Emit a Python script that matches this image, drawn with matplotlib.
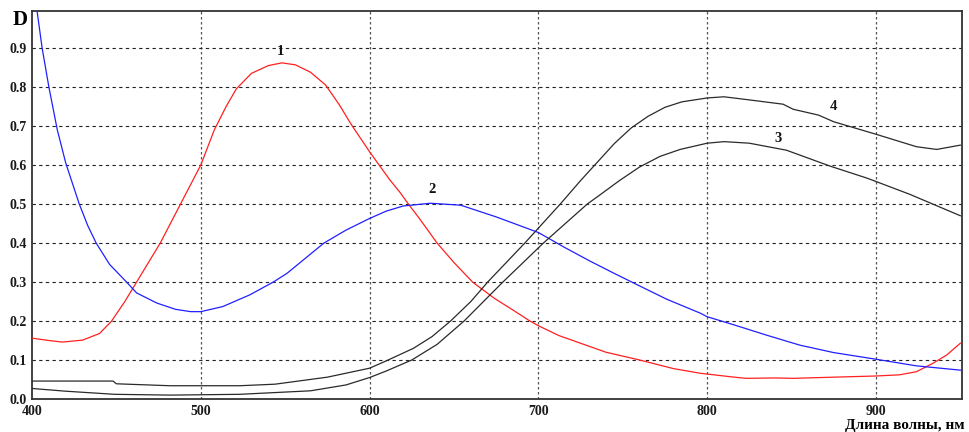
import matplotlib
matplotlib.use("Agg")
import matplotlib.pyplot as plt

# curve 1 (red)
red_x = [400, 410, 418, 430, 440, 447, 455, 462, 469, 476, 488, 500, 508, 515, 521, 530, 540,
         548, 556, 565, 574, 582, 589, 600, 606, 612, 618, 623, 630, 640, 650, 661, 674, 685,
         695, 700, 712, 725, 740, 760, 780, 796, 814, 823, 840, 851, 875, 900, 914, 924, 934,
         942, 950]
red_y = [0.156, 0.150, 0.146, 0.151, 0.168, 0.199, 0.25, 0.30, 0.35, 0.40, 0.50, 0.60, 0.69,
         0.75, 0.795, 0.835, 0.855, 0.862, 0.857, 0.838, 0.805, 0.755, 0.705, 0.634, 0.598,
         0.562, 0.53, 0.50, 0.46, 0.40, 0.35, 0.30, 0.258, 0.228, 0.20, 0.188, 0.163, 0.143,
         0.12, 0.10, 0.078, 0.066, 0.057, 0.053, 0.054, 0.053, 0.056, 0.059, 0.062, 0.070,
         0.092, 0.113, 0.143]

# curve 2 (blue)
blue_x = [400, 403, 406, 410, 415, 420, 428, 433, 438, 446, 456, 462, 474, 485, 494, 500, 513,
          529, 543, 551, 573, 586, 600, 610, 620, 636, 654, 675, 700, 715, 730, 745, 760, 776,
          796, 800, 816, 835, 855, 875, 900, 924, 950]
blue_y = [1.07, 0.995, 0.90, 0.80, 0.69, 0.605, 0.50, 0.445, 0.40, 0.345, 0.30, 0.272, 0.246,
          0.23, 0.224, 0.224, 0.237, 0.267, 0.30, 0.322, 0.40, 0.433, 0.463, 0.482, 0.495, 0.502,
          0.497, 0.467, 0.427, 0.39, 0.355, 0.322, 0.29, 0.256, 0.22, 0.211, 0.19, 0.164, 0.138,
          0.119, 0.102, 0.085, 0.074]

# curve 3 (black, lower)
b3_x = [400, 420, 449, 482, 523, 565, 586, 600, 610, 625, 640, 656, 679, 703, 729, 737, 748,
        760, 772, 784, 800, 810, 825, 847, 866, 873, 895, 920, 950]
b3_y = [0.027, 0.020, 0.012, 0.010, 0.012, 0.021, 0.036, 0.055, 0.072, 0.10, 0.14, 0.20, 0.30,
        0.40, 0.50, 0.525, 0.56, 0.595, 0.622, 0.64, 0.656, 0.66, 0.656, 0.638, 0.608, 0.597,
        0.566, 0.525, 0.47]

# curve 4 (black, upper)
b4_x = [400, 448, 450, 482, 523, 544, 575, 600, 610, 626, 637, 648, 660, 670, 692, 713, 725,
        737, 745, 755, 765, 775, 785, 800, 810, 825, 845, 851, 866, 875, 900, 924, 936, 950]
b4_y = [0.046, 0.046, 0.039, 0.034, 0.034, 0.038, 0.056, 0.079, 0.098, 0.13, 0.16, 0.20, 0.25,
        0.30, 0.40, 0.50, 0.56, 0.617, 0.655, 0.695, 0.725, 0.748, 0.762, 0.772, 0.775, 0.767,
        0.756, 0.743, 0.728, 0.711, 0.679, 0.647, 0.64, 0.651]

curve_labels = ["1", "2", "3", "4"]
label_pos = [(547, 0.89), (637, 0.536), (842, 0.667), (875, 0.751)]

x_ticks = [400, 500, 600, 700, 800, 900]
y_ticks = [0.0, 0.1, 0.2, 0.3, 0.4, 0.5, 0.6, 0.7, 0.8, 0.9]

SERIF = "Liberation Serif"

fig = plt.figure(figsize=(9.7, 4.32), dpi=100)
ax = fig.add_axes([32/970, 33/432, 930/970, 388/432])

for xv in x_ticks[1:]:
    ax.axvline(xv, color="#555555", lw=0.9, ls=(0, (2, 2)), zorder=1)
for yv in y_ticks[1:]:
    ax.axhline(yv, color="#222222", lw=0.8, ls=(0, (3, 3)), zorder=1)

ax.plot(red_x, red_y, color="#ff2020", lw=0.9, zorder=3)
ax.plot(blue_x, blue_y, color="#2020ff", lw=0.9, zorder=3)
ax.plot(b3_x, b3_y, color="#2a2a2a", lw=0.9, zorder=3)
ax.plot(b4_x, b4_y, color="#2a2a2a", lw=0.9, zorder=3)

for lab, (lx, ly) in zip(curve_labels, label_pos):
    ax.text(lx, ly, lab, ha="center", va="center", fontsize=10.5, fontweight="bold",
            family=SERIF, color="#111111")

ax.set_xlim(400, 951)
ax.set_ylim(0, 0.995)
ax.set_xticks(x_ticks)
ax.set_yticks(y_ticks)
ax.set_xticklabels([str(v) for v in x_ticks], family=SERIF, fontweight="bold", fontsize=10)
ax.set_yticklabels([f"{v:.1f}" for v in y_ticks], family=SERIF, fontweight="bold", fontsize=10)
ax.tick_params(axis="y", length=0, pad=4, colors="#1a1a1a")
ax.tick_params(axis="x", length=0, pad=4, colors="#1a1a1a")
for sp in ax.spines.values():
    sp.set_color("#333333")
    sp.set_linewidth(1.3)

fig.text(20/970, 1 - 20/432, "D", ha="center", va="center", fontsize=15, fontweight="bold",
         family=SERIF)
fig.text(965/970, 1 - 425/432, "Длина волны, нм", ha="right", va="center", fontsize=11,
         fontweight="bold", family=SERIF)

fig.savefig("out.png", dpi=100)
